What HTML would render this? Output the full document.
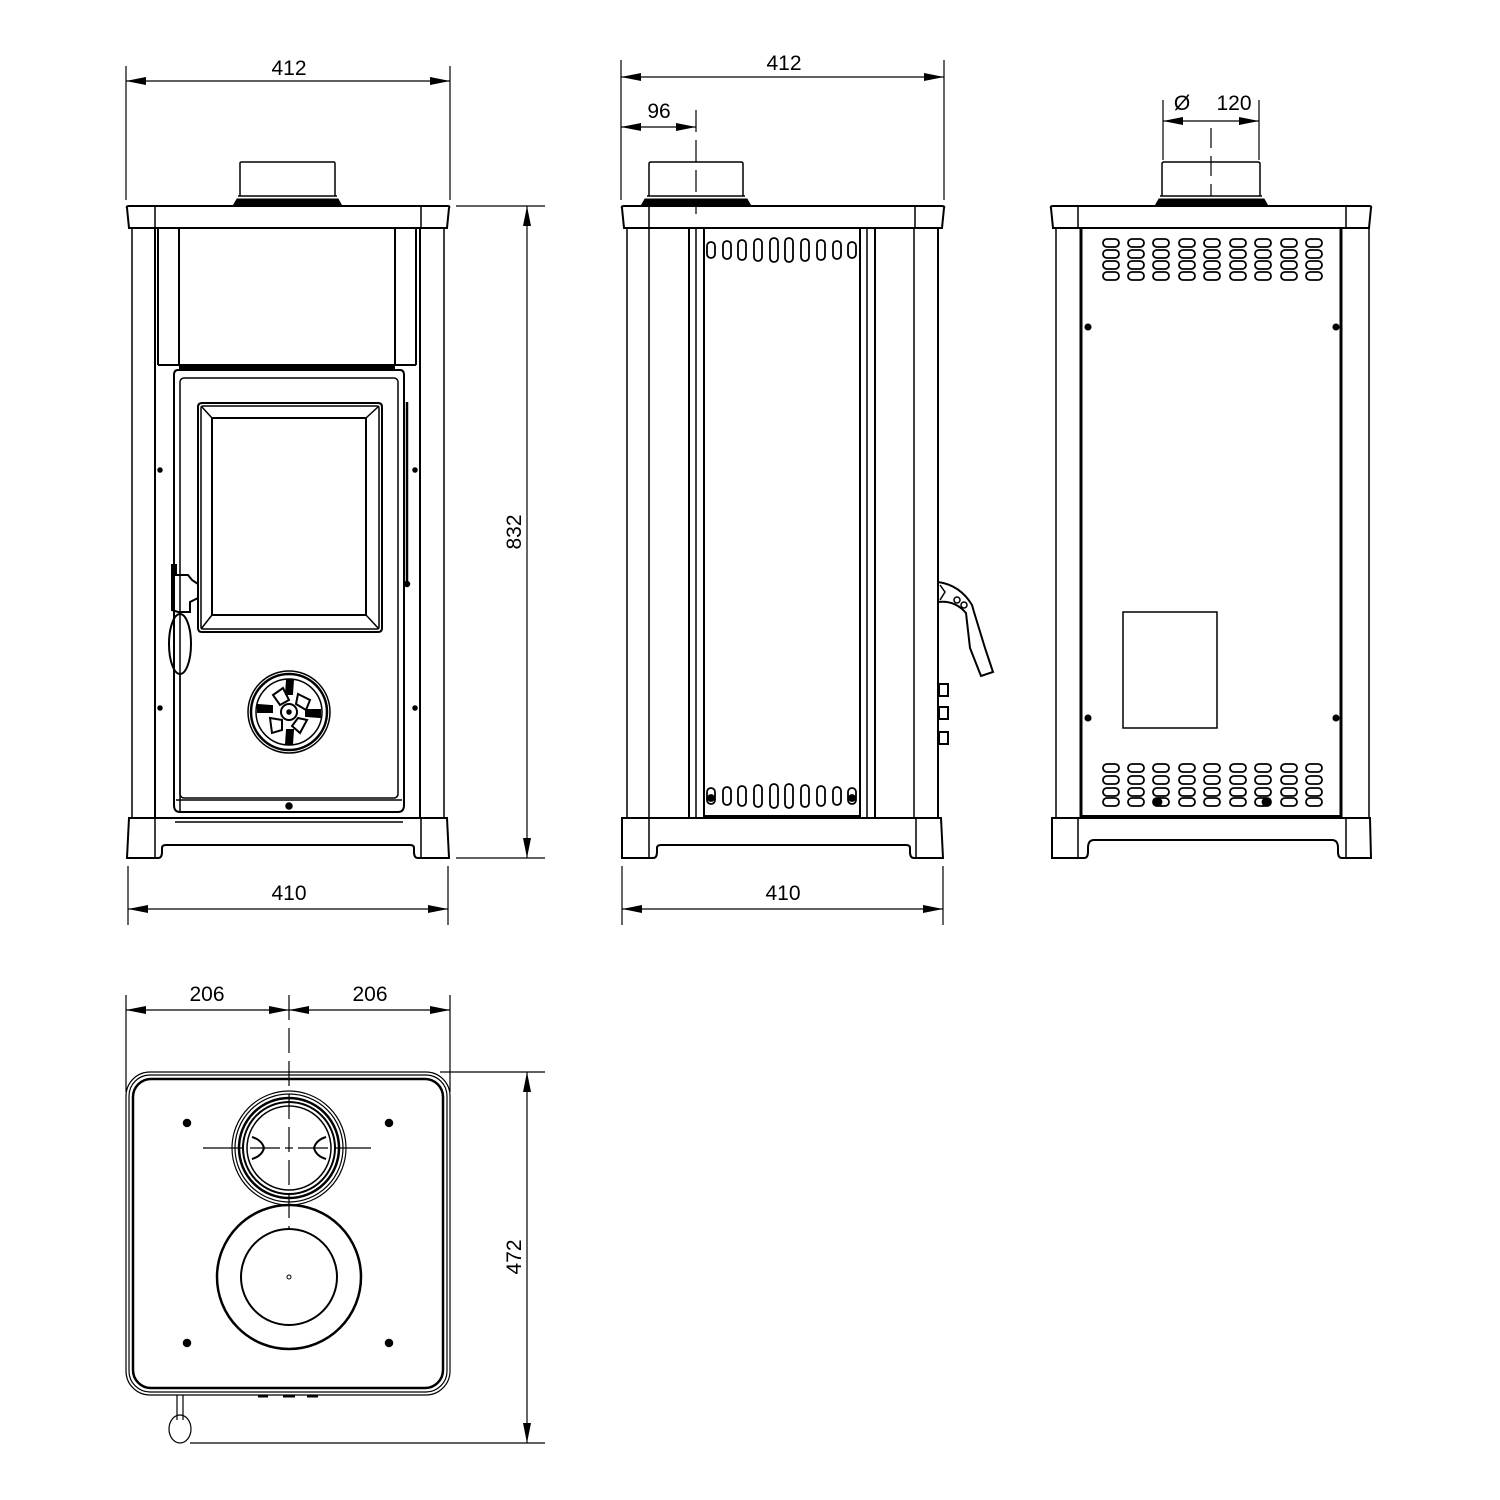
<!DOCTYPE html>
<html><head><meta charset="utf-8"><style>
html,body{margin:0;padding:0;background:#fff}
svg{display:block}
text{font-family:"Liberation Sans",sans-serif;font-size:21px;fill:#000}
</style></head><body>
<svg id="s" width="1500" height="1500" viewBox="0 0 1500 1500" xmlns="http://www.w3.org/2000/svg" fill="none" stroke="#000" stroke-width="1.5">
<defs>
<marker id="a" viewBox="0 0 20 8" refX="20" refY="4" markerWidth="20" markerHeight="8" orient="auto-start-reverse" markerUnits="userSpaceOnUse"><path d="M0,0 L20,4 L0,8 Z" fill="#000" stroke="none"/></marker>
</defs>

<!-- ===== FRONT VIEW ===== -->
<g>
<path d="M240,196 L240,163 Q240,162 242,162 L334,162 Q335,162 335,164 L335,196"/>
<path d="M233,206 L237,199 L338,199 L342,206 Z" fill="#000" stroke-width="1"/>
<line x1="238" y1="196" x2="337" y2="196"/>
<path d="M127,208 Q126,206 129,206 L448,206 Q450,206 449,208 L447,228 L129,228 Z" stroke-width="2"/>
<line x1="155" y1="206" x2="155" y2="228"/><line x1="421" y1="206" x2="421" y2="228"/>
<line x1="132" y1="228" x2="132" y2="818"/><line x1="155" y1="228" x2="155" y2="818" stroke-width="2"/>
<line x1="444" y1="228" x2="444" y2="818"/><line x1="420" y1="228" x2="420" y2="818" stroke-width="2"/>
<line x1="158" y1="228" x2="158" y2="365" stroke-width="2"/><line x1="416" y1="228" x2="416" y2="365" stroke-width="2"/>
<line x1="179" y1="228" x2="179" y2="365" stroke-width="2"/><line x1="395" y1="228" x2="395" y2="365" stroke-width="2"/>
<line x1="158" y1="365" x2="416" y2="365" stroke-width="2"/>
<rect x="179" y="366" width="216" height="5" fill="#000" stroke="none"/>
<path d="M174,375 Q174,370 178,370 L400,370 Q404,370 404,375 L404,805 Q404,812 398,812 L180,812 Q174,812 174,805 Z" stroke-width="2"/>
<rect x="180" y="378" width="218" height="420" rx="4"/>
<line x1="176" y1="800" x2="402" y2="800"/>
<line x1="407" y1="402" x2="407" y2="585" stroke-width="2.5"/>
<circle cx="407" cy="584" r="2.5" fill="#000"/>
<path d="M198,407 Q198,403 202,403 L378,403 Q382,403 382,407 L382,628 Q382,632 378,632 L202,632 Q198,632 198,628 Z" stroke-width="2"/>
<rect x="201" y="406" width="178" height="223" rx="2"/>
<rect x="212" y="418" width="154" height="197" stroke-width="2"/>
<line x1="201" y1="406" x2="212" y2="418"/><line x1="379" y1="406" x2="366" y2="418"/>
<line x1="201" y1="629" x2="212" y2="615"/><line x1="379" y1="629" x2="366" y2="615"/>
<!-- handle -->
<path d="M172,565 L176,565 L176,575 L188,575 L192,580 L198,584 L198,598 L190,602 L190,612 L178,612 L172,610 Z" stroke-width="2"/>
<ellipse cx="180" cy="644" rx="11" ry="30" stroke-width="2"/>
<line x1="180" y1="674" x2="180" y2="812"/>
<!-- knob -->
<circle cx="289" cy="712" r="41"/>
<circle cx="289" cy="712" r="38" stroke-width="2.5"/>
<circle cx="289" cy="712" r="33" stroke-width="1.5"/>
<circle cx="289" cy="712" r="8" stroke-width="2"/>
<circle cx="289" cy="712" r="2" fill="#000"/>
<g stroke-width="2">
<path d="M273,695 L283,688 L289,700 L280,705 Z"/><path d="M298,694 L310,700 L306,710 L296,704 Z"/>
<path d="M307,720 L300,733 L292,726 L298,718 Z"/><path d="M270,718 L282,720 L282,730 L272,733 Z"/>
<path d="M287,680 L293,680 L292,694 L286,694 Z" fill="#000"/><path d="M287,730 L293,730 L292,744 L286,744 Z" fill="#000"/>
<path d="M258,705 L272,706 L272,712 L258,712 Z" fill="#000"/><path d="M306,710 L320,710 L320,717 L306,716 Z" fill="#000"/>
</g>
<circle cx="160" cy="470" r="2" fill="#000"/><circle cx="160" cy="708" r="2" fill="#000"/>
<circle cx="415" cy="470" r="2" fill="#000"/><circle cx="415" cy="708" r="2" fill="#000"/>
<circle cx="289" cy="806" r="3" fill="#000"/>
<!-- base -->
<path d="M129,818 L447,818 L449,858 L418,858 Q414,858 414,852 L414,848 Q414,845 410,845 L166,845 Q162,845 162,848 L162,852 Q162,858 158,858 L127,858 Z" stroke-width="2"/>
<line x1="155" y1="818" x2="155" y2="858"/><line x1="421" y1="818" x2="421" y2="858"/>
<line x1="175" y1="822" x2="403" y2="822"/>
<!-- dims -->
<g stroke-width="1.2">
<line x1="126" y1="66" x2="126" y2="200"/><line x1="450" y1="66" x2="450" y2="200"/>
<line x1="126" y1="81" x2="450" y2="81" marker-start="url(#a)" marker-end="url(#a)"/>
<line x1="128" y1="866" x2="128" y2="925"/><line x1="448" y1="866" x2="448" y2="925"/>
<line x1="128" y1="909" x2="448" y2="909" marker-start="url(#a)" marker-end="url(#a)"/>
<line x1="456" y1="206" x2="545" y2="206"/><line x1="456" y1="858" x2="545" y2="858"/>
<line x1="527" y1="206" x2="527" y2="858" marker-start="url(#a)" marker-end="url(#a)"/>
</g>
<text x="289" y="75" text-anchor="middle" stroke="none">412</text>
<text x="289" y="900" text-anchor="middle" stroke="none">410</text>
<text transform="translate(521,532) rotate(-90)" text-anchor="middle" stroke="none">832</text>
</g>

<!-- ===== SIDE VIEW ===== -->
<g>
<path d="M649,196 L649,164 Q649,162 651,162 L741,162 Q743,162 743,164 L743,196"/>
<path d="M641,206 L645,199 L747,199 L751,206 Z" fill="#000" stroke-width="1"/>
<line x1="647" y1="196" x2="745" y2="196"/>
<path d="M622,208 Q621,206 624,206 L942,206 Q945,206 944,208 L942,228 L624,228 Z" stroke-width="2"/>
<line x1="649" y1="206" x2="649" y2="228"/><line x1="915" y1="206" x2="915" y2="228"/>
<line x1="627" y1="228" x2="627" y2="818"/><line x1="649" y1="228" x2="649" y2="818"/>
<line x1="689" y1="228" x2="689" y2="818" stroke-width="2"/><line x1="696" y1="228" x2="696" y2="818"/>
<line x1="704" y1="228" x2="704" y2="818" stroke-width="2"/><line x1="860" y1="228" x2="860" y2="818" stroke-width="2"/>
<line x1="867" y1="228" x2="867" y2="818"/><line x1="875" y1="228" x2="875" y2="818" stroke-width="2"/>
<line x1="914" y1="228" x2="914" y2="818"/><line x1="938" y1="228" x2="938" y2="818" stroke-width="2"/>
<line x1="704" y1="816" x2="860" y2="816" stroke-width="2"/>
<g id="sideslots" stroke-width="1.8"></g>
<!-- handle side -->
<path d="M938,582 Q960,585 972,605 L974,612 L985,648 L993,672 L981,676 L970,648 L966,613 Q955,600 938,602" stroke-width="2"/>
<circle cx="957" cy="600" r="3"/><circle cx="964" cy="605" r="3"/>
<path d="M940,585 L945,592 L940,600" />
<rect x="939" y="684" width="9" height="12" stroke-width="2"/>
<rect x="939" y="707" width="9" height="12" stroke-width="2"/>
<rect x="939" y="732" width="9" height="12" stroke-width="2"/>
<path d="M622,818 L941,818 L943,858 L914,858 Q910,858 910,852 L910,848 Q910,845 906,845 L661,845 Q657,845 657,848 L657,852 Q657,858 653,858 L622,858 Z" stroke-width="2"/>
<line x1="649" y1="818" x2="649" y2="858"/><line x1="916" y1="818" x2="916" y2="858"/>
<g stroke-width="1.2">
<line x1="621" y1="60" x2="621" y2="200"/><line x1="944" y1="60" x2="944" y2="200"/>
<line x1="621" y1="77" x2="944" y2="77" marker-start="url(#a)" marker-end="url(#a)"/>
<line x1="621" y1="127" x2="696" y2="127" marker-start="url(#a)" marker-end="url(#a)"/>
<line x1="696" y1="110" x2="696" y2="214" stroke-dasharray="22,8"/>
<line x1="622" y1="866" x2="622" y2="925"/><line x1="943" y1="866" x2="943" y2="925"/>
<line x1="622" y1="909" x2="943" y2="909" marker-start="url(#a)" marker-end="url(#a)"/>
</g>
<text x="784" y="70" text-anchor="middle" stroke="none">412</text>
<text x="659" y="118" text-anchor="middle" stroke="none">96</text>
<text x="783" y="900" text-anchor="middle" stroke="none">410</text>
</g>

<!-- ===== BACK VIEW ===== -->
<g>
<path d="M1162,196 L1162,164 Q1162,162 1164,162 L1258,162 Q1260,162 1260,164 L1260,196"/>
<path d="M1155,206 L1159,199 L1264,199 L1268,206 Z" fill="#000" stroke-width="1"/>
<line x1="1160" y1="196" x2="1262" y2="196"/>
<path d="M1051,208 Q1050,206 1053,206 L1369,206 Q1372,206 1371,208 L1369,228 L1053,228 Z" stroke-width="2"/>
<line x1="1078" y1="206" x2="1078" y2="228"/><line x1="1346" y1="206" x2="1346" y2="228"/>
<line x1="1056" y1="228" x2="1056" y2="818"/><line x1="1369" y1="228" x2="1369" y2="818"/>
<line x1="1081" y1="228" x2="1081" y2="818" stroke-width="3"/><line x1="1341" y1="228" x2="1341" y2="818" stroke-width="3"/>
<line x1="1081" y1="816" x2="1341" y2="816" stroke-width="2"/>
<g id="backslots" stroke-width="1.8"></g>
<circle cx="1088" cy="327" r="2.8" fill="#000"/><circle cx="1336" cy="327" r="2.8" fill="#000"/>
<circle cx="1088" cy="718" r="2.8" fill="#000"/><circle cx="1336" cy="718" r="2.8" fill="#000"/>
<rect x="1123" y="612" width="94" height="116"/>
<path d="M1052,818 L1370,818 L1371,858 L1342,858 Q1338,858 1338,852 L1338,848 Q1338,840 1332,840 L1094,840 Q1088,840 1088,848 L1088,852 Q1088,858 1084,858 L1052,858 Z" stroke-width="2"/>
<line x1="1078" y1="818" x2="1078" y2="858"/><line x1="1346" y1="818" x2="1346" y2="858"/>
<g stroke-width="1.2">
<line x1="1163" y1="100" x2="1163" y2="160"/><line x1="1259" y1="100" x2="1259" y2="160"/>
<line x1="1163" y1="121" x2="1259" y2="121" marker-start="url(#a)" marker-end="url(#a)"/>
<line x1="1211" y1="128" x2="1211" y2="196" stroke-dasharray="20,8"/>
</g>
<text x="1182" y="110" text-anchor="middle" stroke="none" font-size="22">Ø</text>
<text x="1234" y="110" text-anchor="middle" stroke="none">120</text>
</g>

<!-- ===== TOP VIEW ===== -->
<g>
<rect x="126" y="1072" width="324" height="323" rx="24" stroke-width="1.2"/>
<rect x="129" y="1075" width="318" height="317" rx="21" stroke-width="1.2"/>
<rect x="133" y="1079" width="310" height="309" rx="18" stroke-width="2.5"/>
<circle cx="289" cy="1148" r="57" stroke-width="1.2"/>
<circle cx="289" cy="1148" r="54" stroke-width="1.2"/>
<circle cx="289" cy="1148" r="50" stroke-width="2.5"/>
<circle cx="289" cy="1148" r="46" stroke-width="2"/>
<circle cx="289" cy="1148" r="42" stroke-width="1.5"/>
<path d="M252,1137 Q262,1140 264,1148 Q262,1156 252,1159" stroke-width="2"/>
<path d="M326,1137 Q316,1140 314,1148 Q316,1156 326,1159" stroke-width="2"/>
<circle cx="289" cy="1277" r="72" stroke-width="2.5"/>
<circle cx="289" cy="1277" r="48" stroke-width="2"/>
<circle cx="289" cy="1277" r="2" stroke-width="1"/>
<g fill="#000"><circle cx="187" cy="1123" r="3.5"/><circle cx="389" cy="1123" r="3.5"/><circle cx="187" cy="1343" r="3.5"/><circle cx="389" cy="1343" r="3.5"/></g>
<path d="M258,1396 L268,1396 M283,1396 L295,1396 M307,1396 L318,1396" stroke-width="3"/>
<line x1="177" y1="1395" x2="177" y2="1420" stroke-width="1.2"/><line x1="183" y1="1395" x2="183" y2="1420" stroke-width="1.2"/>
<ellipse cx="180" cy="1429" rx="11" ry="14" stroke-width="1.2"/>
<g stroke-width="1.2">
<line x1="203" y1="1148" x2="242" y2="1148"/><line x1="250" y1="1148" x2="280" y2="1148"/><line x1="285" y1="1148" x2="293" y2="1148"/><line x1="298" y1="1148" x2="328" y2="1148"/><line x1="335" y1="1148" x2="371" y2="1148"/>
<line x1="289" y1="995" x2="289" y2="1230" stroke-dasharray="25,8"/>
<line x1="126" y1="995" x2="126" y2="1092"/><line x1="450" y1="995" x2="450" y2="1092"/>
<line x1="126" y1="1010" x2="289" y2="1010" marker-start="url(#a)" marker-end="url(#a)"/>
<line x1="289" y1="1010" x2="450" y2="1010" marker-start="url(#a)" marker-end="url(#a)"/>
<line x1="440" y1="1072" x2="545" y2="1072"/><line x1="190" y1="1443" x2="545" y2="1443"/>
<line x1="527" y1="1072" x2="527" y2="1443" marker-start="url(#a)" marker-end="url(#a)"/>
</g>
<text x="207" y="1001" text-anchor="middle" stroke="none">206</text>
<text x="370" y="1001" text-anchor="middle" stroke="none">206</text>
<text transform="translate(521,1257) rotate(-90)" text-anchor="middle" stroke="none">472</text>
</g>
</svg>
<script>
var NS="http://www.w3.org/2000/svg";
function el(p,t,a){var e=document.createElementNS(NS,t);for(var k in a)e.setAttribute(k,a[k]);p.appendChild(e);return e;}
var ss=document.getElementById("sideslots");
var xs=[711,727,742,758,774,789,805,821,837,852],hs=[8,9,10,11,12,12,11,10,9,8];
xs.forEach(function(x,i){el(ss,"rect",{x:x-4,y:250-hs[i],width:8,height:hs[i]*2,rx:4});el(ss,"rect",{x:x-4,y:796-hs[i],width:8,height:hs[i]*2,rx:4});});
el(ss,"circle",{cx:711,cy:798,r:3,fill:"#000"});el(ss,"circle",{cx:852,cy:798,r:3,fill:"#000"});
var bs=document.getElementById("backslots");
var bx=[1111,1136,1161,1187,1212,1238,1263,1289,1314],by=[243,254,265,276,768,780,792,802];
bx.forEach(function(x){by.forEach(function(y){el(bs,"rect",{x:x-8,y:y-4,width:16,height:8,rx:4});});});
el(bs,"circle",{cx:1158,cy:802,r:3.5,fill:"#000"});el(bs,"circle",{cx:1266,cy:802,r:3.5,fill:"#000"});
</script>
</body></html>
